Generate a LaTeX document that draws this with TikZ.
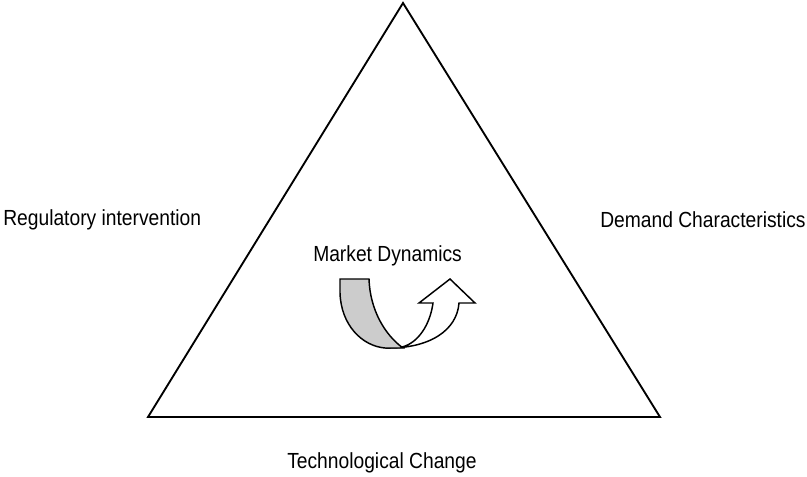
\documentclass[tikz,border=0pt]{standalone}
\usepackage{fontspec}
\setmainfont{Liberation Sans}[FakeStretch=0.88]
\definecolor{ribbon}{HTML}{CCCCCC}
\begin{document}
\begin{tikzpicture}[x=0.75pt,y=-0.75pt,
  label/.style={anchor=base west,inner sep=0pt,font=\fontsize{16.4}{18}\selectfont},
  frame/.style={line width=1.4pt,line join=miter},
  turn/.style={line width=1.1pt,line join=miter}]
\useasboundingbox (0,0) rectangle (807,476);

% the triangle
\coordinate (top) at (403,3);
\coordinate (bl) at (148,417);
\coordinate (br) at (660,417);
\draw[frame] (top) -- (bl) -- (br) -- cycle;

% side labels
\node[label] (reg) at (3,225) {Regulatory intervention};
\node[label] (dem) at (600,227) {Demand Characteristics};
\node[label] (tec) at (287,468) {Technological Change};
\node[label] (mkt) at (313,261) {Market Dynamics};

% U-turn arrow: white rising part first, grey descending band on top
\draw[turn,fill=white] (385,348) .. controls (430,349) and (457,330) .. (459,303)
  -- (475,303) -- (450,279) -- (419,303) -- (433,303)
  .. controls (430,325) and (418,343) .. (402,347) -- cycle;
\draw[turn,fill=ribbon] (340,279) -- (340,293)
  .. controls (341,325) and (362,346) .. (385,348) -- (403,348)
  .. controls (385,335) and (370,310) .. (369,279) -- cycle;
\end{tikzpicture}
\end{document}
